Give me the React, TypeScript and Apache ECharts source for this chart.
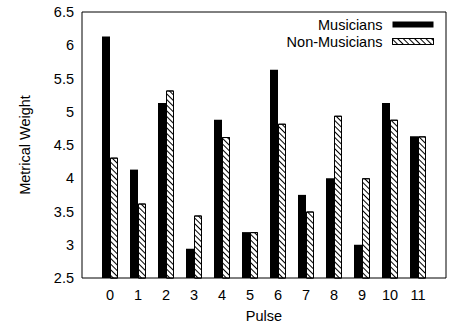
import React, { useEffect, useRef } from "react";
import * as echarts from "echarts";

const pulses = ["", "0", "1", "2", "3", "4", "5", "6", "7", "8", "9", "10", "11", ""];
const musicians = [null, 6.13, 4.13, 5.13, 2.94, 4.88, 3.19, 5.63, 3.75, 4.0, 3.0, 5.13, 4.63, null];
const nonMusicians = [null, 4.31, 3.62, 5.32, 3.44, 4.62, 3.19, 4.82, 3.5, 4.94, 4.0, 4.88, 4.63, null];
const yTicks = { min: 2.5, max: 6.5, interval: 0.5 };

const FONT = "'Liberation Sans', Arial, Helvetica, sans-serif";
const FS = 14.5;

export default function App() {
  const ref = useRef<HTMLDivElement>(null);
  useEffect(() => {
    if (!ref.current) return;
    const chart = echarts.init(ref.current, null, { renderer: "svg" });
    const hatch = {
      symbol: "rect",
      symbolSize: 1,
      color: "#000",
      backgroundColor: "#fff",
      dashArrayX: [1, 0],
      dashArrayY: [1, 3],
      rotation: Math.PI / 4,
    };
    chart.setOption({
      animation: false,
      textStyle: { fontFamily: FONT, color: "#000" },
      grid: {
        left: 82,
        right: -3,
        top: 12,
        bottom: 49,
        show: true,
        borderColor: "#000",
        borderWidth: 1,
        backgroundColor: "transparent",
      },
      legend: {
        orient: "vertical",
        right: 15,
        top: 17,
        padding: 0,
        align: "right",
        icon: "rect",
        itemWidth: 41,
        itemHeight: 6,
        itemGap: 2,
        textStyle: { fontFamily: FONT, fontSize: FS, color: "#000", lineHeight: 14, padding: [0, 5, 0, 0] },
        data: [
          { name: "Musicians", itemStyle: { color: "#000", borderWidth: 0 } },
          { name: "Non-Musicians", itemStyle: { color: "#fff", borderColor: "#000", borderWidth: 1, decal: hatch } },
        ],
      },
      xAxis: {
        type: "category",
        data: pulses,
        boundaryGap: false,
        name: "Pulse",
        nameLocation: "middle",
        nameGap: 30,
        nameTextStyle: { fontFamily: FONT, fontSize: FS, color: "#000" },
        axisLine: { show: false },
        axisTick: { show: false },
        splitLine: { show: false },
        axisLabel: { fontFamily: FONT, fontSize: FS, color: "#000", margin: 9, interval: 0 },
      },
      yAxis: {
        type: "value",
        min: yTicks.min,
        max: yTicks.max,
        interval: yTicks.interval,
        name: "Metrical Weight",
        nameLocation: "middle",
        nameGap: 50,
        nameTextStyle: { fontFamily: FONT, fontSize: FS, color: "#000" },
        axisLine: { show: false },
        axisTick: { show: false },
        splitLine: { show: false },
        axisLabel: { fontFamily: FONT, fontSize: FS, color: "#000", margin: 8 },
      },
      series: [
        {
          name: "Musicians",
          type: "bar",
          data: musicians,
          barWidth: 8,
          barGap: "0%",
          itemStyle: { color: "#000" },
        },
        {
          name: "Non-Musicians",
          type: "bar",
          data: nonMusicians,
          barWidth: 8,
          barGap: "0%",
          itemStyle: { color: "#fff", borderColor: "#000", borderWidth: 1, decal: hatch },
        },
      ],
    });
    return () => chart.dispose();
  }, []);
  return <div ref={ref} style={{ width: 449, height: 328, position: "absolute", left: 0, top: 0 }} />;
}
